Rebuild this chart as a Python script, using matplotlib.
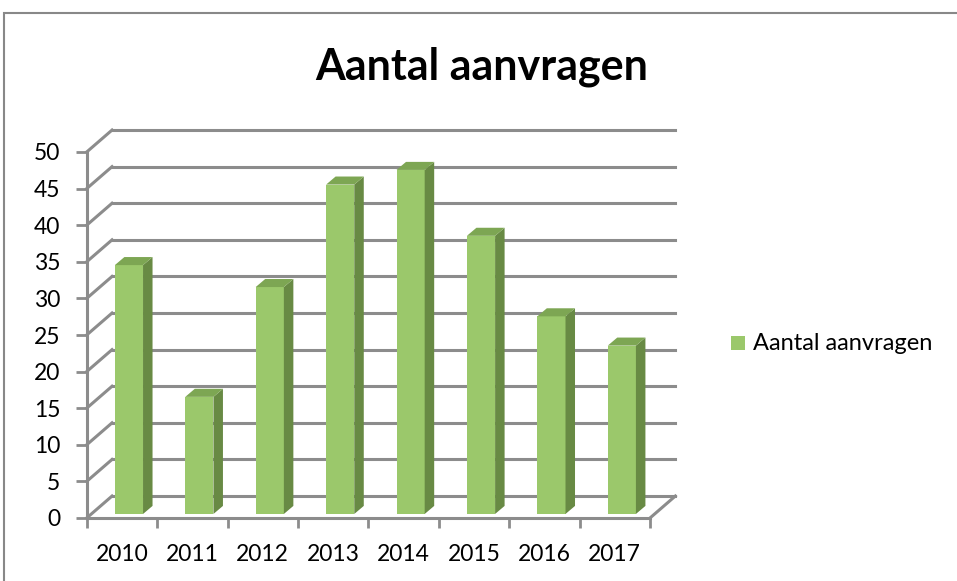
import matplotlib
matplotlib.use('Agg')
import matplotlib.pyplot as plt
from matplotlib.patches import Polygon, Rectangle
import numpy as np

# data
years = ['2010', '2011', '2012', '2013', '2014', '2015', '2016', '2017']
aanvragen = [34, 16, 31, 45, 47, 38, 27, 23]
y_ticks = [0, 5, 10, 15, 20, 25, 30, 35, 40, 45, 50]
series_name = 'Aantal aanvragen'

# colours
c_front = '#9BC86B'
c_side = '#688A44'
c_top = '#7DA653'
c_grid = '#8C8C8C'

plt.rcParams['font.family'] = ['Lato', 'DejaVu Sans']

W, H = 957, 581
fig = plt.figure(figsize=(W / 100, H / 100), dpi=100)

# 3d wall offset (in data units) and bar depth offsets
wall_dx, wall_dy = 0.36, 3.0
bar_x0, bar_y0 = 0.10, 0.55
bar_dx, bar_dy = 0.135, 1.1
bar_w = 0.40

# axes placed in pixels: x -0.5 -> 86.7px, y 0 -> 518px
px_per_cat = (650 - 86.7) / 8
px_per_unit = (518 - 152) / 50
xmin, xmax = -0.5, 7.5 + wall_dx
ymin, ymax = 0, 50 + wall_dy
left = 86.7
right = left + (xmax - xmin) * px_per_cat
bottom = 518
top = bottom - (ymax - ymin) * px_per_unit
ax = fig.add_axes([left / W, 1 - bottom / H, (right - left) / W, (bottom - top) / H])
ax.set_xlim(xmin, xmax)
ax.set_ylim(ymin, ymax)
ax.patch.set_visible(False)
for s in ax.spines.values():
    s.set_visible(False)

# walls / gridlines
for v in y_ticks:
    ax.plot([-0.5 + wall_dx, 7.5 + wall_dx], [v + wall_dy, v + wall_dy],
            color=c_grid, lw=2.2, clip_on=False, zorder=1)
    ax.plot([-0.5, -0.5 + wall_dx], [v, v + wall_dy],
            color=c_grid, lw=2.2, clip_on=False, zorder=1)
# floor front + right edge
ax.plot([-0.5, 7.5], [0, 0], color=c_grid, lw=2.2, clip_on=False, zorder=1)
ax.plot([7.5, 7.5 + wall_dx], [0, wall_dy], color=c_grid, lw=2.2, clip_on=False, zorder=1)
# front vertical axis
ax.plot([-0.5, -0.5], [0, 50], color=c_grid, lw=2.2, clip_on=False, zorder=1)

# bars
x = np.arange(len(years))
xl = x - bar_w / 2 + bar_x0
ax.bar(xl, aanvragen, width=bar_w, bottom=bar_y0, align='edge',
       color=c_front, zorder=3, linewidth=0)
for xi, v in zip(xl, aanvragen):
    xr = xi + bar_w
    side = [(xr, bar_y0), (xr + bar_dx, bar_y0 + bar_dy),
            (xr + bar_dx, bar_y0 + v + bar_dy), (xr, bar_y0 + v)]
    topf = [(xi, bar_y0 + v), (xr, bar_y0 + v),
            (xr + bar_dx, bar_y0 + v + bar_dy), (xi + bar_dx, bar_y0 + v + bar_dy)]
    ax.add_patch(Polygon(side, closed=True, fc=c_side, ec='none', zorder=3))
    ax.add_patch(Polygon(topf, closed=True, fc=c_top, ec='none', zorder=3))

# ticks
ax.set_yticks(y_ticks)
ax.set_yticklabels([str(t) for t in y_ticks], fontsize=16.5)
ax.tick_params(axis='y', length=8, width=2, color=c_grid, pad=11, direction='out')
ax.set_xticks(x)
ax.set_xticklabels(years, fontsize=16.5)
ax.set_xticks(np.arange(-0.5, 8, 1), minor=True)
ax.tick_params(axis='x', which='major', length=0, pad=19)
ax.tick_params(axis='x', which='minor', length=7, width=2, color=c_grid, direction='out')

# title
fig.text(482 / W, 1 - 67 / H, 'Aantal aanvragen', fontsize=31, fontweight='bold',
         ha='center', va='center')

# legend
fig.patches.append(Rectangle((731 / W, 1 - 350 / H), 14 / W, 14 / H,
                             transform=fig.transFigure, fc=c_front, ec='none'))
fig.text(753 / W, 1 - 343 / H, series_name, fontsize=17, ha='left', va='center')

# chart border (only top/left visible)
fig.patches.append(Rectangle((4 / W, -0.1), 1.2, 1 - 13 / H + 0.1,
                             transform=fig.transFigure, fill=False, ec='#888888', lw=1.5))

fig.savefig('out.png', dpi=100)
